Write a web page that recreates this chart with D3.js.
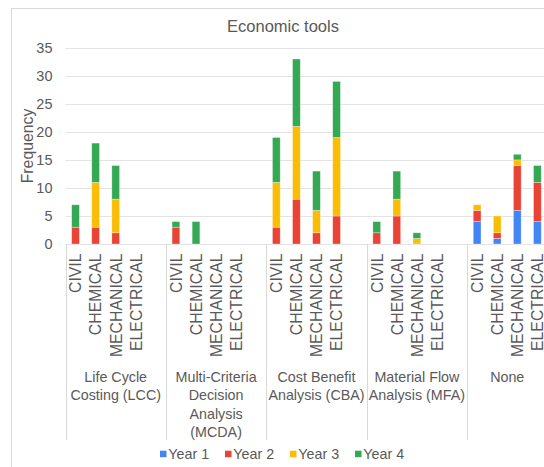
<!DOCTYPE html>
<html>
<head>
<meta charset="utf-8">
<script src="https://cdn.jsdelivr.net/npm/d3@7/dist/d3.min.js"></script>
<style>
  html, body { margin: 0; padding: 0; background: #fff; }
  svg { display: block; font-family: "Liberation Sans", Arial, sans-serif; }
</style>
</head>
<body>
<svg id="chart" width="544" height="467"></svg>
<script>
// Tool groups and the disciplines surveyed within each group
const groups = [
  "Life Cycle Costing (LCC)",
  "Multi-Criteria Decision Analysis (MCDA)",
  "Cost Benefit Analysis (CBA)",
  "Material Flow Analysis (MFA)",
  "None"
];
const disciplines = ["CIVIL", "CHEMICAL", "MECHANICAL", "ELECTRICAL"];

// Frequencies per year, ordered group by group, discipline by discipline
const year1 = [0, 0, 0, 0,  0, 0, 0, 0,  0, 0, 0, 0,   0, 0, 0, 0,  4, 1, 6, 4];
const year2 = [3, 3, 2, 0,  3, 0, 0, 0,  3, 8, 2, 5,   2, 5, 0, 0,  2, 1, 8, 7];
const year3 = [0, 8, 6, 0,  0, 0, 0, 0,  8, 13, 4, 14, 0, 3, 1, 0,  1, 3, 1, 0];
const year4 = [4, 7, 6, 0,  1, 4, 0, 0,  8, 12, 7, 10, 2, 5, 1, 0,  0, 0, 1, 3];

const seriesNames = ["Year 1", "Year 2", "Year 3", "Year 4"];
const seriesColors = ["#4285F4", "#EA4335", "#FBBC04", "#34A853"];
const yTicks = [0, 5, 10, 15, 20, 25, 30, 35];

const svg = d3.select("#chart");
const textColor = "#595959";
const lineColor = "#d9d9d9";

// Chart frame
svg.append("rect")
  .attr("x", 11.5).attr("y", 8.5)
  .attr("width", 545).attr("height", 470)
  .attr("fill", "#fff").attr("stroke", lineColor);

// Category slots: four disciplines per group plus an empty spacer slot
// between groups (none after the last one)
const slots = [];
groups.forEach((g, gi) => {
  disciplines.forEach(d => slots.push(gi + "|" + d));
  if (gi < groups.length - 1) slots.push(gi + "|");
});

const plotLeft = 65.5, plotRight = 547.4, plotTop = 47.8, plotBottom = 244;
const x = d3.scaleBand().domain(slots).range([plotLeft, plotRight]).padding(0);
const y = d3.scaleLinear().domain([0, 35]).range([plotBottom, plotTop]);

// Title
svg.append("text")
  .attr("x", 283).attr("y", 31.5)
  .attr("text-anchor", "middle")
  .attr("fill", textColor)
  .attr("font-size", 16.5)
  .text("Economic tools");

// Horizontal gridlines
svg.append("g").selectAll("line")
  .data(yTicks).join("line")
  .attr("x1", plotLeft).attr("x2", plotRight)
  .attr("y1", d => Math.round(y(d)) + 0.5).attr("y2", d => Math.round(y(d)) + 0.5)
  .attr("stroke", "#e3e3e3").attr("stroke-width", 1.2);

// Y axis labels
const yAxis = svg.append("g")
  .attr("transform", `translate(${plotLeft},0)`)
  .call(d3.axisLeft(y).tickValues(yTicks).tickSize(0).tickPadding(13));
yAxis.select(".domain").remove();
yAxis.selectAll("text")
  .attr("fill", textColor)
  .attr("font-size", 14.5)
  .attr("font-family", "'Liberation Sans', Arial, sans-serif");

// Y axis title
svg.append("text")
  .attr("transform", "translate(27.5,146) rotate(-90)")
  .attr("text-anchor", "middle")
  .attr("dy", "0.35em")
  .attr("fill", textColor)
  .attr("font-size", 15.8)
  .text("Frequency");

// Stacked series
const rows = [];
groups.forEach((g, gi) => {
  disciplines.forEach((d, di) => {
    const i = gi * disciplines.length + di;
    rows.push({ key: gi + "|" + d, "Year 1": year1[i], "Year 2": year2[i], "Year 3": year3[i], "Year 4": year4[i] });
  });
});
const stacked = d3.stack().keys(seriesNames)(rows);
const barWidth = x.bandwidth() * 0.385;

svg.append("g").selectAll("g")
  .data(stacked).join("g")
  .attr("fill", (d, i) => seriesColors[i])
  .selectAll("rect")
  .data(d => d.filter(p => p[1] > p[0]))
  .join("rect")
  .attr("x", p => x(p.data.key) + (x.bandwidth() - barWidth) / 2)
  .attr("width", barWidth)
  .attr("y", p => y(p[1]))
  .attr("height", p => y(p[0]) - y(p[1]))
  .attr("stroke", "#ffffff").attr("stroke-opacity", 0.45).attr("stroke-width", 0.7);

// Group separators on the category axis
const bounds = groups.map((g, gi) => x(gi + "|" + disciplines[0])).concat([plotRight]);
svg.append("g").selectAll("line")
  .data(bounds).join("line")
  .attr("x1", d => Math.round(d) + 0.5).attr("x2", d => Math.round(d) + 0.5)
  .attr("y1", plotBottom).attr("y2", 440)
  .attr("stroke", lineColor).attr("stroke-width", 1);

// Discipline labels (rotated)
svg.append("g").selectAll("text")
  .data(rows).join("text")
  .attr("transform", d => `translate(${x(d.key) + x.bandwidth() / 2},253.5) rotate(-90)`)
  .attr("text-anchor", "end")
  .attr("dy", "0.37em")
  .attr("fill", textColor)
  .attr("font-size", 15.8)
  .text(d => d.key.split("|")[1]);

// Group labels, wrapped to the width of each group
function wrapWords(text, maxWidth, fontSize) {
  const probe = svg.append("text").attr("font-size", fontSize).attr("visibility", "hidden");
  const words = text.split(" ");
  const lines = [];
  let line = "";
  words.forEach(w => {
    const trial = line ? line + " " + w : w;
    probe.text(trial);
    if (line && probe.node().getComputedTextLength() > maxWidth) {
      lines.push(line);
      line = w;
    } else {
      line = trial;
    }
  });
  if (line) lines.push(line);
  probe.remove();
  return lines;
}

groups.forEach((g, gi) => {
  const start = bounds[gi], end = bounds[gi + 1];
  const cx = (start + end) / 2;
  const lines = wrapWords(g, end - start - 2, 14.3);
  const t = svg.append("text")
    .attr("text-anchor", "middle")
    .attr("fill", textColor)
    .attr("font-size", 14.3);
  lines.forEach((ln, li) => {
    t.append("tspan").attr("x", cx).attr("y", 381.8 + li * 18.35).text(ln);
  });
});

// Legend
const legend = svg.append("g").selectAll("g")
  .data(seriesNames).join("g")
  .attr("transform", (d, i) => `translate(${160 + i * 65},0)`);
legend.append("rect")
  .attr("x", 0).attr("y", 450.7)
  .attr("width", 6.5).attr("height", 6.5)
  .attr("fill", (d, i) => seriesColors[i]);
legend.append("text")
  .attr("x", 8.3).attr("y", 459.3)
  .attr("fill", textColor)
  .attr("font-size", 14.3)
  .text(d => d);
</script>
</body>
</html>
